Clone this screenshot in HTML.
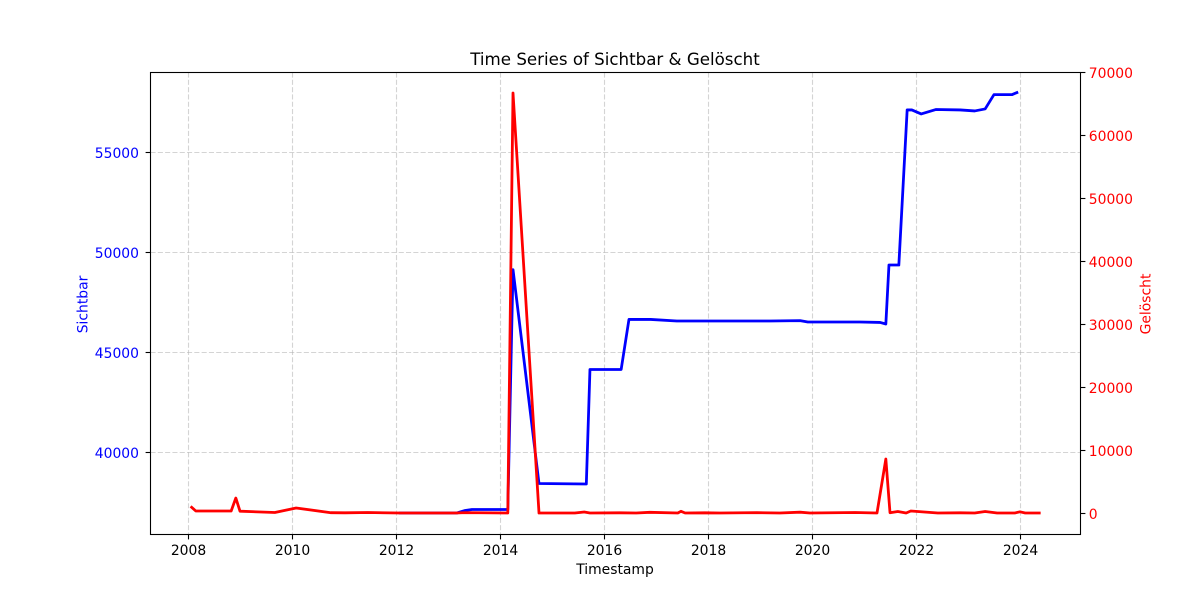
<!DOCTYPE html>
<html>
<head>
<meta charset="utf-8">
<title>Time Series of Sichtbar &amp; Gelöscht</title>
<style>
html,body{margin:0;padding:0;background:#fff;width:1200px;height:600px;overflow:hidden}
svg{display:block}
text{font-family:"DejaVu Sans","Liberation Sans",sans-serif;font-size:13.9px}
</style>
</head>
<body>
<svg id="chart" xmlns="http://www.w3.org/2000/svg" width="1200" height="600" viewBox="0 0 1200 600">
  <rect x="0" y="0" width="1200" height="600" fill="#fff"/>
  <text x="615" y="65" text-anchor="middle" style="font-size:16.67px" fill="#000">Time Series of Sichtbar &amp; Gelöscht</text>
  <text x="615" y="574" text-anchor="middle" fill="#000">Timestamp</text>
  <text transform="translate(87.5,304.5) rotate(-90)" text-anchor="middle" fill="#0000ff">Sichtbar</text>
  <text transform="translate(1150.5,304) rotate(-90)" text-anchor="middle" fill="#ff0000">Gelöscht</text>
  <g id="grid"></g>
  <g id="series"></g>
  <g id="ticks"></g>
  <rect x="150.5" y="72.5" width="930" height="462" fill="none" stroke="#000" stroke-width="1.1"/>
</svg>
<script>
const xTickYears = [2008, 2010, 2012, 2014, 2016, 2018, 2020, 2022, 2024];
const leftTickValues = [40000, 45000, 50000, 55000];
const rightTickValues = [0, 10000, 20000, 30000, 40000, 50000, 60000, 70000];

const sichtbarDates = [2012.08, 2013.17, 2013.33, 2013.46, 2014.15, 2014.25, 2014.75, 2015.66, 2015.73, 2016.33, 2016.48, 2016.9, 2017.4, 2019.19, 2019.77, 2019.92, 2020.92, 2021.31, 2021.42, 2021.48, 2021.67, 2021.83, 2021.92, 2022.1, 2022.38, 2022.85, 2023.13, 2023.33, 2023.5, 2023.85, 2023.94];
const sichtbarValues = [36940, 36940, 37065, 37115, 37115, 49150, 38420, 38395, 44140, 44140, 46650, 46650, 46570, 46570, 46590, 46520, 46520, 46500, 46420, 49380, 49380, 57160, 57160, 56960, 57180, 57160, 57110, 57210, 57930, 57930, 58030];

const geloeschtDates = [2008.07, 2008.15, 2008.83, 2008.92, 2009.0, 2009.67, 2010.08, 2010.75, 2011.02, 2011.46, 2012.08, 2013.15, 2013.33, 2014.15, 2014.25, 2014.75, 2015.44, 2015.62, 2015.73, 2016.3, 2016.62, 2016.88, 2017.42, 2017.48, 2017.56, 2017.94, 2018.23, 2018.94, 2019.38, 2019.77, 2019.96, 2020.83, 2021.25, 2021.42, 2021.5, 2021.65, 2021.81, 2021.9, 2022.42, 2022.85, 2023.13, 2023.33, 2023.56, 2023.9, 2024.0, 2024.1, 2024.37];
const geloeschtValues = [906, 320, 320, 2380, 290, 80, 800, 50, 30, 80, 0, 0, 60, 0, 66740, 0, 0, 160, 0, 30, 0, 110, 0, 270, 0, 30, 0, 60, 0, 130, 0, 80, 0, 8580, 50, 240, 0, 320, 0, 30, 0, 240, 0, 0, 190, 0, 0];

const NS = 'http://www.w3.org/2000/svg';
const plotLeft = 150.5, plotRight = 1080.5, plotTop = 72.5, plotBottom = 534.5;

function xScale(year) { return 188 + (year - 2008) * 52; }
function leftScale(v) { return 452 + (40000 - v) * (99.67 / 5000); }
function rightScale(v) { return 513 - v * (440.5 / 70000); }

function make(tag, attrs, parent) {
  const el = document.createElementNS(NS, tag);
  for (const k in attrs) el.setAttribute(k, attrs[k]);
  parent.appendChild(el);
  return el;
}

const gridG = document.getElementById('grid');
const seriesG = document.getElementById('series');
const ticksG = document.getElementById('ticks');
const gridStyle = { stroke: '#b0b0b0', 'stroke-opacity': '0.55', 'stroke-width': '1.1', 'stroke-dasharray': '5.1 2.2', fill: 'none' };

xTickYears.forEach(function (yr) {
  const x = Math.floor(xScale(yr)) + 0.5;
  const g = make('line', Object.assign({ x1: x, x2: x, y1: plotTop, y2: plotBottom }, gridStyle), gridG);
  
  
  const t = make('line', { x1: x, x2: x, y1: plotBottom, y2: plotBottom + 4.9, stroke: '#000', 'stroke-width': '1.1' }, ticksG);
  
  
  const l = make('text', { x: x, y: 555, 'text-anchor': 'middle', fill: '#000' }, ticksG);
  
  
  l.textContent = String(yr);
});

leftTickValues.forEach(function (v) {
  const y = Math.round(leftScale(v) - 0.5) + 0.5;
  const g = make('line', Object.assign({ x1: plotLeft, x2: plotRight, y1: y, y2: y }, gridStyle), gridG);
  
  
  const t = make('line', { x1: plotLeft - 4.9, x2: plotLeft, y1: y, y2: y, stroke: '#000', 'stroke-width': '1.1' }, ticksG);
  
  
  const l = make('text', { x: 139, y: y + 5.5, 'text-anchor': 'end', fill: '#0000ff' }, ticksG);
  
  
  l.textContent = String(v);
});

rightTickValues.forEach(function (v) {
  const y = Math.round(rightScale(v) - 0.5) + 0.5;
  const t = make('line', { x1: plotRight, x2: plotRight + 4.9, y1: y, y2: y, stroke: '#000', 'stroke-width': '1.1' }, ticksG);
  
  
  const l = make('text', { x: 1088.8, y: y + 5.5, 'text-anchor': 'start', fill: '#ff0000' }, ticksG);
  
  
  l.textContent = String(v);
});

function pathFrom(dates, values, yScale) {
  return dates.map(function (d, i) {
    return (i ? 'L' : 'M') + xScale(d).toFixed(2) + ' ' + yScale(values[i]).toFixed(2);
  }).join(' ');
}

const blueLine = make('path', { d: pathFrom(sichtbarDates, sichtbarValues, leftScale), fill: 'none', stroke: '#0000ff', 'stroke-width': '2.78', 'stroke-linejoin': 'round', 'stroke-linecap': 'square' }, seriesG);



const redLine = make('path', { d: pathFrom(geloeschtDates, geloeschtValues, rightScale), fill: 'none', stroke: '#ff0000', 'stroke-width': '2.78', 'stroke-linejoin': 'round', 'stroke-linecap': 'square' }, seriesG);


</script>
</body>
</html>
